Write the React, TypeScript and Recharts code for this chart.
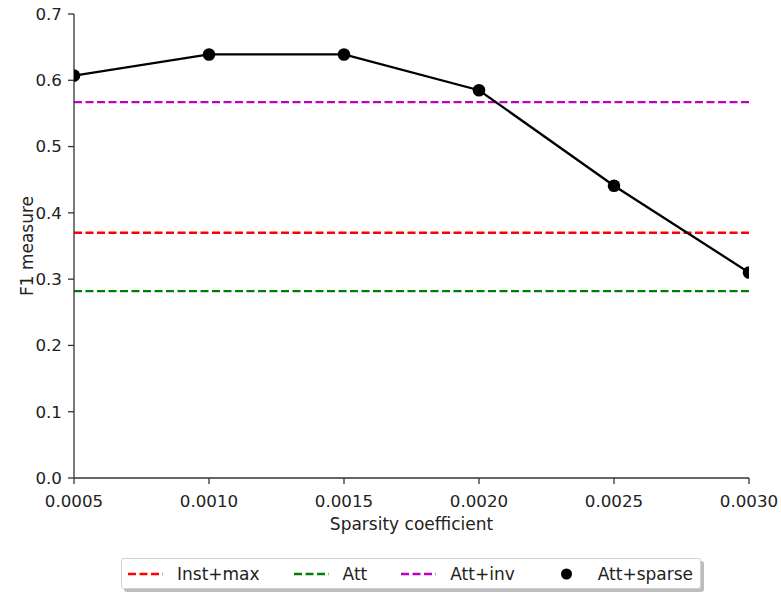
import React from "react";
import {
  ComposedChart,
  Line,
  XAxis,
  YAxis,
  Legend,
} from "recharts";

const sparsity = [0.0005, 0.001, 0.0015, 0.002, 0.0025, 0.003];
const attSparse = [0.607, 0.639, 0.639, 0.585, 0.441, 0.31];
const instMax = 0.37;
const att = 0.282;
const attInv = 0.567;
const xTicks = [0.0005, 0.001, 0.0015, 0.002, 0.0025, 0.003];
const yTicks = [0, 0.1, 0.2, 0.3, 0.4, 0.5, 0.6, 0.7];

const data = sparsity.map((s, i) => ({
  x: s,
  attSparse: attSparse[i],
  instMax,
  att,
  attInv,
}));

const FONT = "'DejaVu Sans', sans-serif";
const AXIS = "#333";
const DASH = "8 3.5";

const legendItems = [
  { name: "Inst+max", color: "#ff0000", kind: "dash" },
  { name: "Att", color: "#008000", kind: "dash" },
  { name: "Att+inv", color: "#bf00bf", kind: "dash" },
  { name: "Att+sparse", color: "#000000", kind: "dot" },
];

const LegendBox = () => (
  <div
    style={{
      display: "flex",
      alignItems: "center",
      height: 31,
      width: 580,
      boxSizing: "border-box",
      border: "1px solid #d0d0d0",
      borderRadius: 3,
      background: "#fff",
      boxShadow: "3px 3px 0 #bdbdbd",
      paddingLeft: 6,
      fontFamily: FONT,
      fontSize: 17,
      color: "#222",
    }}
  >
    {legendItems.map((it, i) => (
      <div
        key={it.name}
        style={{ display: "flex", alignItems: "center", marginRight: i < 3 ? 34 : 0 }}
      >
        <svg width={35} height={12} style={{ marginRight: 14 }}>
          {it.kind === "dash" ? (
            <line x1={0} y1={6} x2={35} y2={6} stroke={it.color} strokeWidth={2.3} strokeDasharray={DASH} />
          ) : (
            <circle cx={17.5} cy={6} r={5.5} fill={it.color} />
          )}
        </svg>
        <span>{it.name}</span>
      </div>
    ))}
  </div>
);

export default function App() {
  return (
    <div style={{ position: "absolute", left: 0, top: 0, background: "#fff" }}>
      <ComposedChart
        width={781}
        height={592}
        data={data}
        margin={{ top: 14, right: 32, left: 0, bottom: 0 }}
      >
        <XAxis
          dataKey="x"
          type="number"
          domain={[0.0005, 0.003]}
          ticks={xTicks}
          allowDataOverflow
          tickFormatter={(v: number) => v.toFixed(4)}
          height={114}
          tickSize={6}
          tickMargin={11}
          stroke={AXIS}
          strokeWidth={1.3}
          tick={{ fill: "#222", fontSize: 16.7, fontFamily: FONT }}
          label={{
            value: "Sparsity coefficient",
            position: "insideTop",
            offset: 40,
            fill: "#222",
            fontSize: 17,
            fontFamily: FONT,
          }}
        />
        <XAxis
          xAxisId="top"
          dataKey="x"
          type="number"
          orientation="top"
          domain={[0.0005, 0.003]}
          height={0}
          tick={false}
          tickLine={false}
          stroke={AXIS}
          strokeWidth={1.3}
        />
        <YAxis
          type="number"
          domain={[0, 0.7]}
          ticks={yTicks}
          allowDataOverflow
          tickFormatter={(v: number) => v.toFixed(1)}
          width={74}
          tickSize={6}
          tickMargin={6}
          stroke={AXIS}
          strokeWidth={1.3}
          tick={{ fill: "#222", fontSize: 16.7, fontFamily: FONT }}
          label={{
            value: "F1 measure",
            angle: -90,
            position: "insideLeft",
            offset: 27,
            fill: "#222",
            fontSize: 17,
            fontFamily: FONT,
            style: { textAnchor: "middle" },
          }}
        />
        <YAxis
          yAxisId="right"
          orientation="right"
          domain={[0, 0.7]}
          width={0}
          tick={false}
          tickLine={false}
          stroke={AXIS}
          strokeWidth={1.3}
        />
        <Legend
          layout="horizontal"
          verticalAlign="middle"
          align="center"
          wrapperStyle={{ left: 121, top: 558, width: 584 }}
          content={() => <LegendBox />}
        />
        <Line
          dataKey="instMax"
          name="Inst+max"
          stroke="#ff0000"
          strokeWidth={2.3}
          strokeDasharray={DASH}
          dot={false}
          activeDot={false}
          isAnimationActive={false}
        />
        <Line
          dataKey="att"
          name="Att"
          stroke="#008000"
          strokeWidth={2.3}
          strokeDasharray={DASH}
          dot={false}
          activeDot={false}
          isAnimationActive={false}
        />
        <Line
          dataKey="attInv"
          name="Att+inv"
          stroke="#bf00bf"
          strokeWidth={2.3}
          strokeDasharray={DASH}
          dot={false}
          activeDot={false}
          isAnimationActive={false}
        />
        <Line
          dataKey="attSparse"
          name="Att+sparse"
          stroke="#000"
          strokeWidth={2.3}
          dot={{ r: 6.3, fill: "#000", stroke: "#000", strokeWidth: 0 }}
          activeDot={false}
          isAnimationActive={false}
        />
      </ComposedChart>
    </div>
  );
}
